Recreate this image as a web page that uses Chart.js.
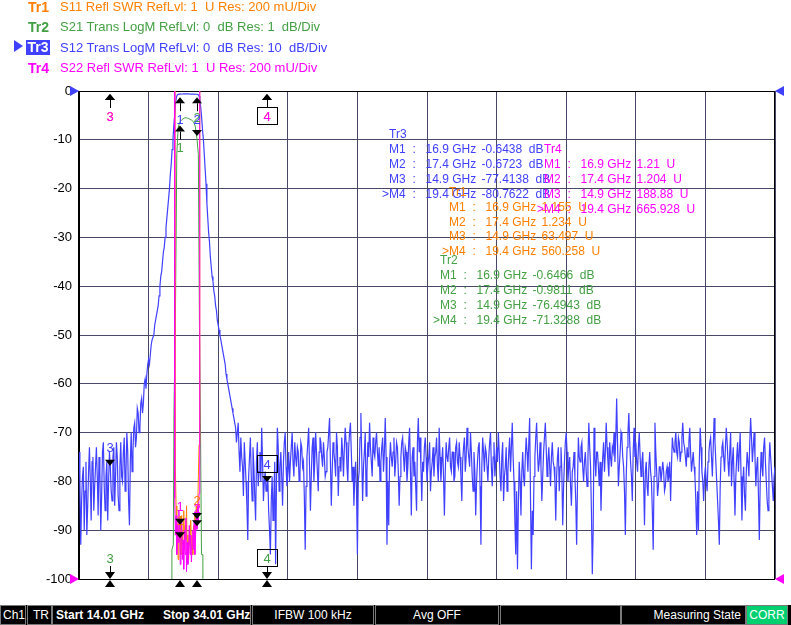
<!DOCTYPE html>
<html><head><meta charset="utf-8">
<script src="https://cdn.jsdelivr.net/npm/chart.js@4.4.1/dist/chart.umd.min.js"></script>
<style>
html,body{margin:0;padding:0;background:#fff;width:791px;height:625px;overflow:hidden;}
#wrap{position:relative;width:791px;height:625px;font-family:"Liberation Sans",Arial,sans-serif;}
canvas{position:absolute;left:0;top:0;}
.hdr{position:absolute;left:0;height:20px;font-size:13px;line-height:20px;white-space:pre;}
.hdr .tr{position:absolute;left:28px;top:0;font-weight:bold;font-size:14px;}
.hdr .tx{position:absolute;left:60px;top:0;}
#tr3box{position:absolute;left:26px;top:40px;width:24px;height:15px;background:#4040ff;color:#fff;font-weight:bold;font-size:14px;line-height:15px;text-align:center;}
#ptr{position:absolute;left:14px;top:40px;width:0;height:0;border-left:9px solid #4040ff;border-top:6px solid transparent;border-bottom:6px solid transparent;}
.t{position:absolute;font-size:12px;line-height:14px;white-space:pre;}
#status{position:absolute;left:0;top:605px;width:791px;height:20px;background:#000;}
.seg{position:absolute;top:0;border:1px solid #7a7a7a;color:#fff;font-size:12px;line-height:18px;font-family:"Liberation Sans",Arial,sans-serif;white-space:pre;box-sizing:border-box;height:20px;}
.seg span{position:absolute;top:0;}
</style></head>
<body>
<div id="wrap">
<canvas id="c" width="791" height="625"></canvas>
<div class="hdr" style="top:-3px;color:#ff8000"><span class="tr">Tr1</span><span class="tx">S11 Refl SWR RefLvl: 1  U Res: 200 mU/Div</span></div>
<div class="hdr" style="top:17px;color:#44a044"><span class="tr">Tr2</span><span class="tx">S21 Trans LogM RefLvl: 0  dB Res: 1  dB/Div</span></div>
<div class="hdr" style="top:38px;color:#4040ff"><span class="tx">S12 Trans LogM RefLvl: 0  dB Res: 10  dB/Div</span></div>
<div id="ptr"></div><div id="tr3box">Tr3</div>
<div class="hdr" style="top:58px;color:#ff00ff"><span class="tr">Tr4</span><span class="tx">S22 Refl SWR RefLvl: 1  U Res: 200 mU/Div</span></div>
<div id="status"></div>
</div>
<script>
// ---------- data ----------
const START_GHZ = 14.01, STOP_GHZ = 34.01, STEP_GHZ = 0.025;
const gridFreqs = [14.01,16.01,18.01,20.01,22.01,24.01,26.01,28.01,30.01,32.01,34.01];

// S12 Trans LogM (dB), 801 sweep points, 14.01 .. 34.01 GHz
const s12dB = [
-74,-80,-93,-84,-79,-77,-90,-82,-76,-91,-85,-78,-73,-80,-88,-76,-75,-86,-81,-77,
-73,-79,-87,-75,-78,-90,-83,-74,-72,-81,-86,-79,-76,-88,-80,-74,-77,-82,-84,-75,
-73,-85,-79,-72,-75,-83,-86,-77,-72,-79,-80,-74,-71,-82,-78,-70,-74,-84,-89,-76,
-70,-78,-74,-69,-68,-73,-71,-65,-66,-70,-69,-64,-63,-66,-64,-60,-59,-61,-58,-56,
-55,-56,-54,-52,-51,-51,-50,-48,-47,-46,-45,-44,-42,-40,-38,-37,-35,-33,-32,-30,
-28,-26,-24,-22,-20,-17,-15,-12,-10,-7,-5,-2.5,-1.2,-0.8,-0.7,-0.66,-0.64,-0.63,-0.62,-0.61,
-0.6,-0.6,-0.6,-0.6,-0.6,-0.6,-0.6,-0.61,-0.62,-0.62,-0.63,-0.64,-0.65,-0.66,-0.67,-0.67,-0.68,-0.75,-1.0,-2,
-3.5,-5.5,-8,-10,-13,-16,-19,-23,-26,-29,-31,-34,-36,-38,-39,-41,-42,-44,-45,-47,
-48,-49,-50,-51,-52,-53,-54,-55,-56,-58,-59,-60,-61,-62,-63,-64,-65,-66,-67,-68,
-69,-72,-70,-68,-74,-78,-71,-75,-77,-83,-72,-76,-80,-85,-92,-79,-75,-71,-79,-84,
-73,-77,-83,-88,-76,-72,-81,-78,-74,-80,-69,-76,-84,-80,-78,-82,-81,-79,-86,-90,
-95,-84,-79,-88,-83,-76,-97,-80,-69,-73,-82,-77,-74,-79,-85,-76,-72,-70,-77,-81,
-78,-74,-80,-76,-73,-70,-76,-79,-72,-75,-77,-73,-74,-80,-78,-72,-73,-77,-76,-83,
-94,-81,-75,-72,-69,-77,-86,-79,-73,-71,-80,-76,-70,-74,-78,-82,-74,-71,-72,-75,
-77,-72,-75,-79,-78,-74,-73,-70,-67,-76,-85,-78,-72,-74,-76,-79,-70,-73,-83,-77,
-75,-78,-71,-74,-79,-73,-69,-72,-77,-80,-73,-70,-68,-74,-80,-77,-85,-79,-76,-82,
-95,-80,-78,-71,-66,-75,-84,-77,-74,-70,-83,-78,-72,-75,-68,-73,-76,-79,-71,-74,
-75,-72,-70,-74,-77,-73,-80,-76,-73,-71,-78,-74,-67,-75,-93,-80,-89,-76,-72,-75,
-77,-74,-71,-79,-76,-72,-73,-78,-85,-79,-75,-72,-71,-75,-78,-73,-74,-80,-77,-72,
-69,-78,-87,-75,-73,-79,-76,-81,-86,-72,-67,-74,-71,-77,-84,-76,-78,-73,-71,-75,
-80,-77,-75,-72,-82,-78,-76,-73,-79,-75,-74,-71,-77,-80,-69,-75,-80,-76,-73,-79,
-87,-78,-72,-75,-76,-73,-71,-77,-78,-74,-74,-80,-79,-73,-72,-76,-77,-72,-75,-79,
-84,-76,-73,-71,-78,-75,-69,-73,-75,-77,-70,-74,-79,-82,-74,-78,-87,-80,-76,-73,
-72,-81,-93,-77,-71,-74,-78,-73,-74,-77,-80,-75,-72,-70,-77,-81,-75,-72,-79,-76,
-73,-76,-70,-74,-79,-82,-75,-72,-84,-79,-77,-73,-82,-78,-74,-71,-78,-73,-68,-75,
-80,-88,-95,-82,-98,-85,-76,-80,-87,-78,-74,-79,-81,-75,-71,-74,-78,-72,-67,-84,
-98,-86,-91,-79,-75,-71,-68,-74,-78,-76,-72,-77,-84,-79,-74,-71,-68,-73,-79,-76,
-73,-77,-81,-75,-72,-76,-77,-80,-88,-79,-75,-73,-82,-77,-73,-78,-89,-81,-76,-72,
-70,-74,-80,-77,-75,-81,-85,-78,-77,-74,-79,-84,-93,-80,-71,-75,-76,-73,-72,-77,
-80,-76,-74,-78,-81,-75,-68,-73,-77,-86,-99,-90,-69,-75,-79,-74,-74,-77,-81,-76,
-86,-79,-75,-72,-78,-74,-68,-73,-76,-79,-72,-75,-77,-73,-74,-70,-76,-71,-63,-72,
-81,-77,-74,-70,-71,-75,-77,-82,-91,-79,-73,-70,-66,-72,-76,-79,-84,-74,-69,-75,
-72,-76,-78,-73,-70,-75,-79,-76,-74,-80,-89,-78,-76,-81,-83,-77,-74,-78,-80,-86,
-94,-79,-68,-74,-78,-83,-81,-77,-77,-80,-80,-76,-78,-82,-81,-78,-77,-80,-79,-76,
-84,-77,-71,-73,-74,-72,-70,-74,-75,-71,-72,-76,-74,-71,-68,-72,-73,-75,-77,-73,
-75,-72,-69,-74,-78,-76,-74,-77,-79,-84,-91,-82,-90,-76,-69,-73,-78,-80,-84,-79,
-77,-80,-82,-76,-74,-72,-71,-75,-79,-73,-67,-72,-76,-80,-84,-88,-93,-81,-75,-73,
-72,-75,-78,-73,-69,-72,-76,-79,-74,-70,-81,-76,-73,-80,-87,-79,-75,-72,-78,-74,
-70,-79,-88,-80,-77,-83,-86,-78,-74,-76,-79,-72,-67,-71,-76,-73,-70,-75,-81,-77,
-75,-83,-92,-80,-74,-77,-79,-73,-71,-76,-80,-84,-86,-77,-72,-75,-78,-81,-84,-79,
-77
];

// S21 Trans LogM (dB)
const s21Freq = [14.01,14.9,16.64,16.68,16.72,16.74,16.78,16.82,16.86,16.90,16.95,17.00,17.05,17.10,17.15,17.20,17.25,17.30,17.35,17.40,17.44,17.47,17.50,17.53,17.57,17.60,19.4,34.01];
const s21dB   = [-76.5,-76.4943,-40,-9.4,-9.3,-6.5,-4.7,-1.3,-0.75,-0.6466,-0.6,-0.57,-0.55,-0.55,-0.56,-0.58,-0.6,-0.63,-0.72,-0.9811,-1.3,-4.7,-6.8,-9.5,-9.5,-40,-71.3288,-70];

// S11 / S22 Refl SWR (U)
const swrFreq = [14.01,14.9,16.70,
16.74,16.76,16.78,16.80,16.82,16.84,16.86,16.88,16.90,16.92,16.94,16.96,16.98,17.00,17.02,17.04,17.06,17.08,17.10,17.12,17.14,17.16,17.18,17.20,17.22,17.24,17.26,17.28,17.30,17.32,17.34,17.36,17.38,17.40,17.42,17.44,17.46,17.48,17.50,
17.54,19.4,34.01];
const s11U = [58,63.497,40,
12,5,1.45,1.3,1.12,1.2,1.08,1.25,1.155,1.22,1.1,1.26,1.14,1.2,1.28,1.12,1.22,1.16,1.3,1.1,1.18,1.08,1.2,1.14,1.24,1.12,1.18,1.1,1.22,1.16,1.26,1.2,1.3,1.234,1.28,1.42,1.55,4,9,
40,560.258,300];
const s22U = [150,188.88,100,
6,1.33,1.18,1.26,1.1,1.22,1.15,1.28,1.21,1.06,1.18,1.24,1.08,1.16,1.04,1.2,1.1,1.25,1.03,1.15,1.06,1.12,1.22,1.1,1.18,1.07,1.14,1.2,1.12,1.24,1.1,1.18,1.26,1.204,1.3,1.24,1.35,6,20,
100,665.928,400];

// markers
const mkFreq = [16.9, 17.4, 14.9, 19.4];
const mkLabels = ['M1','M2','M3','>M4'];
const mkS11 = [1.155, 1.234, 63.497, 560.258];
const mkS21 = [-0.6466, -0.9811, -76.4943, -71.3288];
const mkS12 = [-0.6438, -0.6723, -77.4138, -80.7622];
const mkS22 = [1.21, 1.204, 188.88, 665.928];

// ---------- styles ----------
const ORANGE = '#ff8000', GREEN = '#44a044', BLUE = '#4040ff', MAGENTA = '#ff00ff';
const GRID = '#484866';

const xy = (fs, vs) => vs.map((v, i) => ({x: fs[i], y: v}));
const s12Pts = s12dB.map((v, i) => ({x: START_GHZ + i * STEP_GHZ, y: v}));

function tri(ctx, pts, color) {
  ctx.beginPath(); ctx.moveTo(pts[0], pts[1]); ctx.lineTo(pts[2], pts[3]); ctx.lineTo(pts[4], pts[5]);
  ctx.closePath(); ctx.fillStyle = color; ctx.fill();
}

const framePlugin = {
  id: 'frame',
  beforeDatasetsDraw(chart) {
    const {ctx, chartArea: a} = chart;
    ctx.save();
    ctx.strokeStyle = '#000'; ctx.lineWidth = 1;
    ctx.strokeRect(Math.round(a.left) + 0.5, Math.round(a.top) + 0.5, Math.round(a.right - a.left) - 1, Math.round(a.bottom - a.top));
    ctx.beginPath(); ctx.moveTo(Math.round(a.left) - 0.5, a.top); ctx.lineTo(Math.round(a.left) - 0.5, a.bottom + 1); ctx.stroke();
    ctx.restore();
  }
};

const refPlugin = {
  id: 'refs',
  afterDraw(chart) {
    const {ctx, chartArea: a, scales} = chart;
    const refs = [[scales.y.getPixelForValue(0), BLUE], [scales.yS.getPixelForValue(1), MAGENTA]];
    refs.forEach(([py, c]) => {
      tri(ctx, [a.left, py, a.left - 9, py - 5, a.left - 9, py + 5], c);
      tri(ctx, [a.right, py, a.right + 9, py - 5, a.right + 9, py + 5], c);
    });
  }
};

const markerPlugin = {
  id: 'markers',
  afterDatasetsDraw(chart) {
    const {ctx, chartArea: a, scales} = chart;
    const top = a.top, bot = a.bottom;
    const traces = [
      {s: 'yS', v: mkS11, c: ORANGE},
      {s: 'yG', v: mkS21, c: GREEN},
      {s: 'y',  v: mkS12, c: BLUE},
      {s: 'yS', v: mkS22, c: MAGENTA}
    ];
    ctx.save();
    ctx.font = '13px "Liberation Sans", Arial, sans-serif';
    ctx.textAlign = 'center'; ctx.textBaseline = 'middle';
    ctx.lineWidth = 1; ctx.strokeStyle = '#000';
    const label = (px, cy, j, c) => {
      ctx.fillStyle = c; ctx.fillText(String(j + 1), px, cy + 1);
      if (j === 3) { ctx.strokeStyle = '#000'; ctx.strokeRect(Math.round(px) - 9.5, Math.round(cy) - 8.5, 20, 17); }
    };
    traces.forEach(t => {
      t.v.forEach((val, j) => {
        const px = Math.round(scales.x.getPixelForValue(mkFreq[j]));
        const py = scales[t.s].getPixelForValue(val);
        if (py > bot) {
          tri(ctx, [px, bot, px - 5, bot - 7, px + 5, bot - 7], '#000');
          ctx.beginPath(); ctx.moveTo(px + 0.5, bot - 7); ctx.lineTo(px + 0.5, bot - 13); ctx.stroke();
          label(px, bot - 21, j, t.c);
        } else if (py < top + 40) {
          const an = Math.max(py, top);
          tri(ctx, [px, an + 3, px - 5, an + 9, px + 5, an + 9], '#000');
          ctx.beginPath(); ctx.moveTo(px + 0.5, an + 9); ctx.lineTo(px + 0.5, an + 17); ctx.stroke();
          label(px, an + 25, j, t.c);
        } else {
          tri(ctx, [px, py - 3, px - 5, py - 9, px + 5, py - 9], '#000');
          label(px, py - 21, j, t.c);
        }
      });
    });
    // active-trace marker stimulus indicators under the axis
    mkFreq.forEach(f => {
      const px = Math.round(scales.x.getPixelForValue(f));
      tri(ctx, [px, bot + 1, px - 5, bot + 8, px + 5, bot + 8], '#000');
    });
    ctx.restore();
  }
};

new Chart(document.getElementById('c'), {
  type: 'line',
  data: {
    datasets: [
      {label: 'S22', data: xy(swrFreq, s22U), yAxisID: 'yS', borderColor: MAGENTA},
      {label: 'S11', data: xy(swrFreq, s11U), yAxisID: 'yS', borderColor: ORANGE},
      {label: 'S21', data: xy(s21Freq, s21dB), yAxisID: 'yG', borderColor: GREEN},
      {label: 'S12', data: s12Pts, yAxisID: 'y', borderColor: BLUE, borderWidth: 1.2}
    ]
  },
  options: {
    responsive: false, animation: false, devicePixelRatio: 1,
    layout: {padding: {left: 0, top: 91, right: 16, bottom: 46}},
    plugins: {legend: {display: false}, tooltip: {enabled: false}},
    elements: {point: {radius: 0}, line: {borderWidth: 1, tension: 0}},
    scales: {
      x: {
        type: 'linear', min: START_GHZ, max: STOP_GHZ,
        ticks: {display: false},
        grid: {color: GRID, lineWidth: 1, drawTicks: false},
        border: {display: false},
        afterBuildTicks: s => { s.ticks = gridFreqs.map(v => ({value: v})); },
        afterFit: s => { s.height = 0; }
      },
      y: {
        position: 'left', min: -100, max: 0,
        ticks: {stepSize: 10, color: '#000', padding: 7, font: {family: '"Liberation Sans", Arial, sans-serif', size: 13}},
        grid: {color: GRID, lineWidth: 1, drawTicks: false},
        border: {display: false},
        afterFit: s => { s.width = 79; }
      },
      yG: {display: false, min: -10, max: 0},
      yS: {display: false, min: 1, max: 3}
    }
  },
  plugins: [framePlugin, markerPlugin, refPlugin]
});

// ---------- marker tables ----------
const wrap = document.getElementById('wrap');
function addText(x, y, str, color) {
  const d = document.createElement('div');
  d.className = 't'; d.style.left = x + 'px'; d.style.top = (y - 7) + 'px'; d.style.color = color;
  d.textContent = str; wrap.appendChild(d);
}
const tables = [
  {name: 'Tr3', vals: mkS12, unit: 'dB', color: BLUE, x: 389, y: 134},
  {name: 'Tr1', vals: mkS11, unit: 'U', color: ORANGE, x: 449, y: 191.5},
  {name: 'Tr4', vals: mkS22, unit: 'U', color: MAGENTA, x: 544, y: 149},
  {name: 'Tr2', vals: mkS21, unit: 'dB', color: GREEN, x: 440, y: 260}
];
tables.forEach(t => {
  addText(t.x, t.y, t.name, t.color);
  t.vals.forEach((v, j) => {
    const ry = t.y + 15.3 + j * 14.8;
    const lab = mkLabels[j];
    addText(lab.startsWith('>') ? t.x - 7 : t.x, ry, lab, t.color);
    addText(t.x + 23.5, ry, ':', t.color);
    addText(t.x + 36.5, ry, String(mkFreq[j]) + ' GHz', t.color);
    addText(t.x + 92.5, ry, String(v) + '  ' + t.unit, t.color);
  });
});

// ---------- status bar ----------
const status = document.getElementById('status');
const segs = [
  {l: 0, r: 26, items: [{t: 'Ch1', x: 2}]},
  {l: 27, r: 52, items: [{t: 'TR', x: 5}]},
  {l: 52, r: 251, items: [{t: 'Start 14.01 GHz', x: 3, b: true}, {t: 'Stop 34.01 GHz', x: 110, b: true}]},
  {l: 252, r: 374, items: [{t: 'IFBW 100 kHz', c: true}]},
  {l: 375, r: 499, items: [{t: 'Avg OFF', c: true}]},
  {l: 500, r: 621, items: []},
  {l: 621, r: 746, items: [{t: 'Measuring State', rr: 4}]},
  {l: 746, r: 788, items: [{t: 'CORR', c: true}], bg: '#00d070'}
];
segs.forEach(s => {
  const d = document.createElement('div');
  d.className = 'seg'; d.style.left = s.l + 'px'; d.style.width = (s.r - s.l) + 'px';
  if (s.bg) d.style.background = s.bg;
  s.items.forEach(it => {
    const sp = document.createElement('span');
    sp.textContent = it.t;
    if (it.b) sp.style.fontWeight = 'bold';
    if (it.c) { sp.style.left = '0'; sp.style.width = '100%'; sp.style.textAlign = 'center'; }
    else if (it.rr !== undefined) { sp.style.right = it.rr + 'px'; }
    else sp.style.left = it.x + 'px';
    d.appendChild(sp);
  });
  status.appendChild(d);
});
</script>
</body></html>
